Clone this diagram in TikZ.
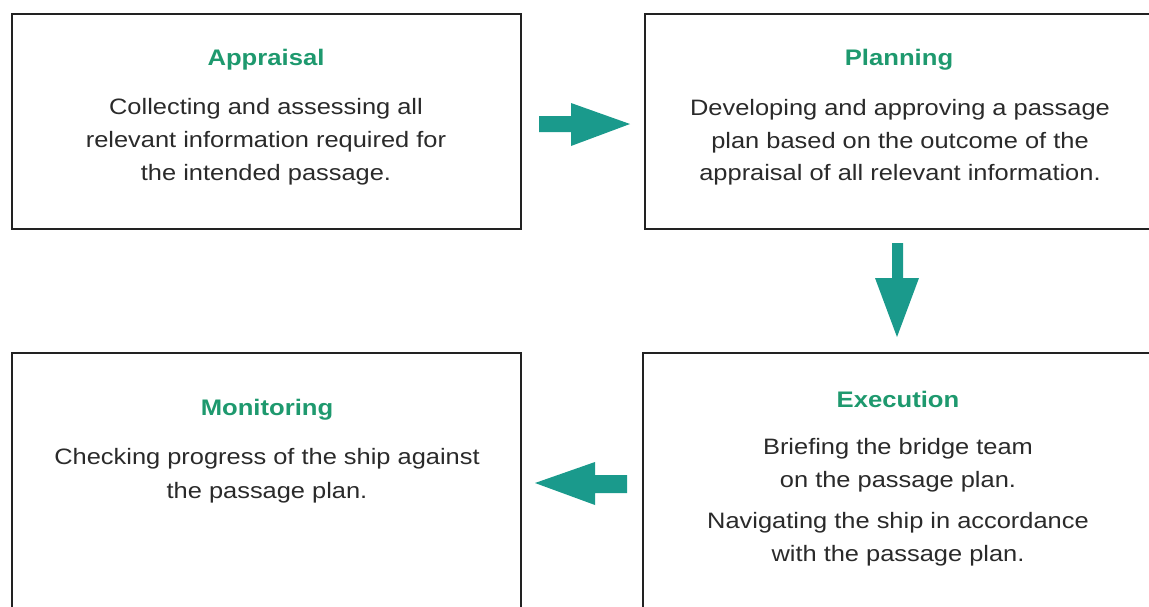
\documentclass[tikz,border=0pt]{standalone}
\usepackage{fontspec}
\setmainfont[FakeStretch=1.14]{Liberation Sans}
\definecolor{titlegreen}{HTML}{1E996E}
\definecolor{arrowteal}{HTML}{1A9A8C}
\definecolor{boxline}{HTML}{222222}
\definecolor{bodytext}{HTML}{2A2A2A}
\begin{document}
\begin{tikzpicture}[x=1pt,y=-1pt,
  panel/.style={draw=boxline,line width=2pt},
  ttl/.style={text=titlegreen,font=\fontsize{22.5}{26}\selectfont\bfseries,inner sep=0pt},
  body/.style={text=bodytext,font=\fontsize{22.3}{26}\selectfont,inner sep=0pt},
  blockarrow/.style={fill=arrowteal,draw=none}]
\useasboundingbox (0,0) rectangle (1149,606);
\begin{scope}
\clip (0,0) rectangle (1149,606);
\draw[panel] (12,14) rectangle (521,229);
\draw[panel] (645,14) rectangle (1165,229);
\draw[panel] (12,353) rectangle (521,620);
\draw[panel] (643,353) rectangle (1165,620);
\end{scope}
% Appraisal
\node[ttl] (t1) at (266,60) {Appraisal};
\node[body] (b1a) at (266,109) {Collecting and assessing all};
\node[body] (b1b) at (266,142) {relevant information required for};
\node[body] (b1c) at (266,175) {the intended passage.};
% Planning
\node[ttl] (t2) at (899,60) {Planning};
\node[body] (b2a) at (900,110) {Developing and approving a passage};
\node[body] (b2b) at (900,143) {plan based on the outcome of the};
\node[body] (b2c) at (900,175) {appraisal of all relevant information.};
% Execution
\node[ttl] (t3) at (898,399) {Execution};
\node[body] (b3a) at (898,449) {Briefing the bridge team};
\node[body] (b3b) at (898,482) {on the passage plan.};
\node[body] (b3c) at (898,523) {Navigating the ship in accordance};
\node[body] (b3d) at (898,556) {with the passage plan.};
% Monitoring
\node[ttl] (t4) at (267,410) {Monitoring};
\node[body] (b4a) at (267,459) {Checking progress of the ship against};
\node[body] (b4b) at (267,493) {the passage plan.};
% arrows
\fill[blockarrow] (539,116) -- (571,116) -- (571,103) -- (630,124) -- (571,146) -- (571,132) -- (539,132) -- cycle;
\fill[blockarrow] (892,243) -- (903,243) -- (903,278) -- (919,278) -- (897,337) -- (875,278) -- (892,278) -- cycle;
\fill[blockarrow] (627,475) -- (595,475) -- (595,462) -- (535,483) -- (595,505) -- (595,493) -- (627,493) -- cycle;
\end{tikzpicture}
\end{document}
